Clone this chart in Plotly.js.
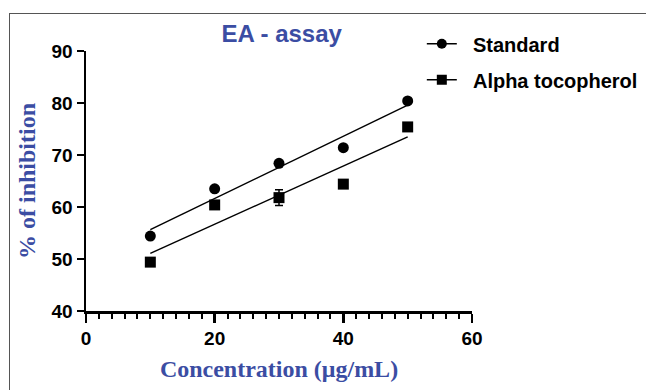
<!DOCTYPE html>
<html>
<head>
<meta charset="utf-8">
<script src="https://cdn.plot.ly/plotly-3.0.1.min.js"></script>
<style>
html,body{margin:0;padding:0;background:#fff;}
#frame{position:absolute;left:9px;top:13px;width:637px;height:377px;border-left:1.5px solid #555;border-top:1.5px solid #555;box-sizing:border-box;}
#chart{position:absolute;left:0;top:0;width:646px;height:390px;}
</style>
</head>
<body>
<div id="frame"></div>
<div id="chart"></div>
<script>
const concentration = [10, 20, 30, 40, 50];
const standardValues = [54.4, 63.5, 68.4, 71.4, 80.4];
const alphaValues = [49.4, 60.4, 61.8, 64.4, 75.4];
const alphaErrors = [0, 0, 1.5, 0, 0];
const xTickVals = [0, 20, 40, 60];
const yTickVals = [40, 50, 60, 70, 80, 90];

function linFit(xs, ys) {
  const n = xs.length;
  const mx = xs.reduce((a, b) => a + b, 0) / n;
  const my = ys.reduce((a, b) => a + b, 0) / n;
  let sxy = 0, sxx = 0;
  for (let i = 0; i < n; i++) { sxy += (xs[i] - mx) * (ys[i] - my); sxx += (xs[i] - mx) ** 2; }
  const b = sxy / sxx, a = my - b * mx;
  const x0 = Math.min(...xs), x1 = Math.max(...xs);
  return { x: [x0, x1], y: [a + b * x0, a + b * x1] };
}
const fitS = linFit(concentration, standardValues);
const fitA = linFit(concentration, alphaValues);

const blue = '#3b4da3';
const traces = [
  { x: fitS.x, y: fitS.y, mode: 'lines', line: { color: '#000', width: 1.5 }, showlegend: false, hoverinfo: 'skip' },
  { x: fitA.x, y: fitA.y, mode: 'lines', line: { color: '#000', width: 1.5 }, showlegend: false, hoverinfo: 'skip' },
  { x: concentration, y: standardValues, mode: 'markers', marker: { symbol: 'circle', size: 11, color: '#000' }, showlegend: false },
  { x: concentration, y: alphaValues, mode: 'markers', marker: { symbol: 'square', size: 11, color: '#000' }, showlegend: false,
    error_y: { type: 'data', array: alphaErrors, visible: true, color: '#000', thickness: 1.5, width: 4 } },
  { x: [null], y: [null], name: '\u00a0\u00a0Standard', mode: 'lines+markers', legendgroup: 's',
    marker: { symbol: 'circle', size: 10, color: '#000' }, line: { color: '#000', width: 1.5 } },
  { x: [null], y: [null], name: '\u00a0\u00a0Alpha tocopherol', mode: 'lines+markers', legendgroup: 'a',
    marker: { symbol: 'square', size: 10, color: '#000' }, line: { color: '#000', width: 1.5 } }
];

const tickFont = { family: 'Liberation Sans, Arial, sans-serif', size: 19, color: '#000', weight: 'bold' };
const layout = {
  width: 646, height: 390,
  margin: { l: 86, r: 174, t: 51, b: 79, pad: 0, autoexpand: false },
  paper_bgcolor: 'rgba(0,0,0,0)', plot_bgcolor: 'rgba(0,0,0,0)',
  title: { text: '<b>EA - assay</b>', x: 0.436, xanchor: 'center', y: 0.915, yanchor: 'middle',
    font: { family: 'Liberation Sans, Arial, sans-serif', size: 24, color: blue } },
  xaxis: {
    range: [0, 60], tickvals: xTickVals, ticktext: xTickVals.map(String),
    showline: true, linecolor: '#000', linewidth: 2.5, showgrid: false, zeroline: false,
    ticks: 'outside', ticklen: 9, tickwidth: 2.5, tickcolor: '#000',
    minor: { dtick: 2, tick0: 0, ticks: 'outside', ticklen: 5, tickwidth: 2, tickcolor: '#000', showgrid: false },
    tickfont: tickFont,
    title: { text: '<b>Concentration (μg/mL)</b>', standoff: 12,
      font: { family: 'Liberation Serif, Times New Roman, serif', size: 24, color: blue } }
  },
  yaxis: {
    range: [40, 90], tickvals: yTickVals, ticktext: yTickVals.map(String),
    showline: true, linecolor: '#000', linewidth: 2.5, showgrid: false, zeroline: false,
    ticks: 'outside', ticklen: 7, tickwidth: 2.5, tickcolor: '#000',
    tickfont: tickFont,
    title: { text: '<b>% of inhibition</b>', standoff: 9,
      font: { family: 'Liberation Serif, Times New Roman, serif', size: 24, color: blue } }
  },
  legend: {
    x: 0.87, xanchor: 'left', y: 1.103, yanchor: 'top',
    traceorder: 'grouped', tracegroupgap: 7, itemwidth: 30,
    font: { family: 'Liberation Sans, Arial, sans-serif', size: 20, color: '#000', weight: 'bold' },
    bgcolor: 'rgba(0,0,0,0)'
  },
  showlegend: true
};
Plotly.newPlot('chart', traces, layout, { displayModeBar: false, staticPlot: true });
</script>
</body>
</html>
